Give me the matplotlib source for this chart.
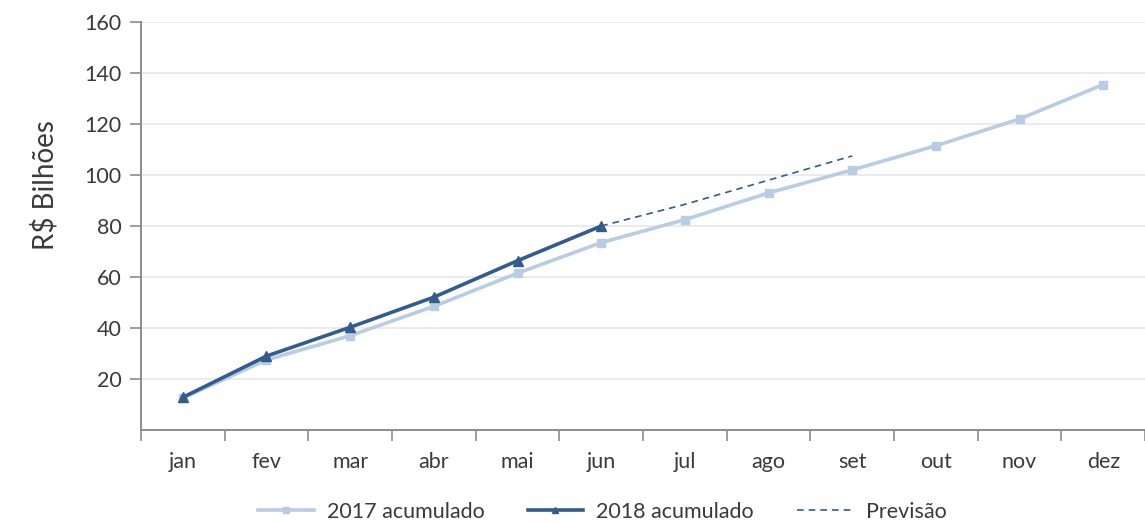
import numpy as np
import matplotlib
matplotlib.use("Agg")
import matplotlib.pyplot as plt
from matplotlib.lines import Line2D

plt.rcParams['font.family'] = ['Lato', 'DejaVu Sans']

# data
meses = ['jan', 'fev', 'mar', 'abr', 'mai', 'jun', 'jul', 'ago', 'set', 'out', 'nov', 'dez']
acum2017 = [12.5, 27.5, 37.0, 48.5, 61.5, 73.5, 82.5, 93.0, 102.0, 111.5, 122.0, 135.5]
acum2018 = [12.8, 29.0, 40.3, 52.1, 66.4, 80.0]
previsao_meses = ['jun', 'jul', 'ago', 'set']
previsao = [80.0, 88.5, 98.0, 107.5]
yticks = [20, 40, 60, 80, 100, 120, 140, 160]

cor2017 = '#B8CCE4'
cor2018 = '#335C8E'
cinza = '#8C8C8C'
texto = '#3A3A3A'

fig = plt.figure(figsize=(11.45, 5.23), dpi=100)
ax = fig.add_axes([0.1231, 0.1778, 0.877, 0.780])

x = np.arange(len(meses))
ax.plot(x, acum2017, color=cor2017, lw=2.6, marker='s', ms=6, zorder=2)
ax.plot(x[:len(acum2018)], acum2018, color=cor2018, lw=2.6, marker='^', ms=6.5, zorder=3)
xp = [meses.index(m) for m in previsao_meses]
ax.plot(xp, previsao, color=cor2018, lw=1.2, ls=(0, (4, 3)), zorder=3)

ax.set_xlim(-0.5, 11.5)
ax.set_ylim(0, 160)
ax.set_yticks(yticks)
ax.tick_params(axis='y', length=8, width=1.2, color=cinza, labelsize=15.5, labelcolor=texto, pad=6)
ax.yaxis.grid(True, color='#E8E8E8', lw=1.2)
ax.set_axisbelow(True)

# category boundaries as major ticks, labels on minor ticks
ax.set_xticks(np.arange(-0.5, 12, 1))
ax.set_xticklabels([])
ax.tick_params(axis='x', which='major', length=8, width=1.2, color=cinza)
ax.set_xticks(x, minor=True)
ax.set_xticklabels(meses, minor=True)
ax.tick_params(axis='x', which='minor', length=0, labelsize=15.5, labelcolor=texto, pad=16)

for s in ['top', 'right']:
    ax.spines[s].set_visible(False)
for s in ['left', 'bottom']:
    ax.spines[s].set_color(cinza)
    ax.spines[s].set_linewidth(1.4)

fig.text(45 / 1145, 1 - 185 / 523, 'R\\$ Bilhões', rotation=90, fontsize=20,
         color=texto, ha='center', va='center')

handles = [
    Line2D([], [], color=cor2017, lw=2.6, marker='s', ms=4),
    Line2D([], [], color=cor2018, lw=2.6, marker='^', ms=4),
    Line2D([], [], color=cor2018, lw=1.2, ls=(0, (4, 3))),
]
labels = ['2017 acumulado', '2018 acumulado', 'Previsão']
fig.legend(handles, labels, loc='center', bbox_to_anchor=(0.526, 1 - 512 / 523), ncol=3,
           frameon=False, fontsize=15.5, handlelength=2.6, columnspacing=2.0,
           handletextpad=0.6, labelcolor=texto)

fig.savefig('out.png', dpi=100)
